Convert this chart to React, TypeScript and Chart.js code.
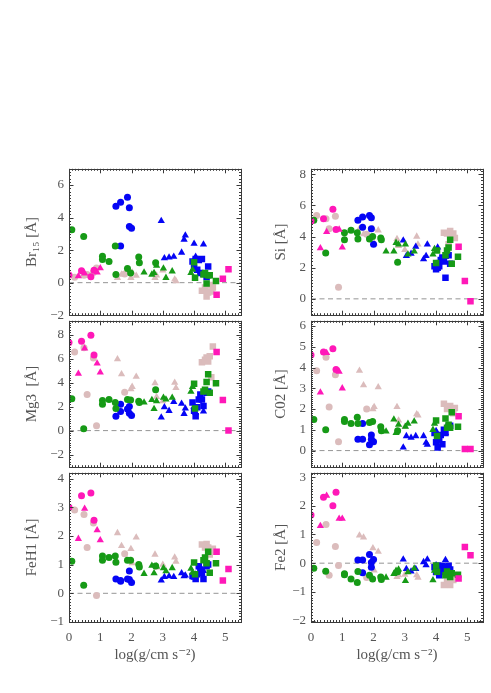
import { useEffect, useRef } from "react";
import { Chart, registerables } from "chart.js";

Chart.register(...registerables);

// log g of every star, one list per symbol group (shared by all six panels)
const magCircX = [0.0, 0.4, 0.7, 0.8];
const magTriX = [0.3, 0.5, 0.9, 1.0];
const magSqX = [4.72, 4.92, 5.1];
const pinkCircX = [0.18, 0.48, 0.58, 0.78, 0.88, 1.78];
const pinkTriX = [1.55, 1.68, 1.98, 2.02, 2.15, 2.75, 2.8, 3.0, 3.38, 3.42];
const pinkSqX = [4.25, 4.35, 4.4, 4.45, 4.5, 4.55, 4.6];
const greenCircX = [0.09, 0.47, 1.07, 1.07, 1.28, 1.48, 1.5, 1.87, 1.97, 2.23, 2.25, 2.77];
const greenTriX = [2.4, 2.65, 2.72, 2.8, 3.02, 3.1, 3.3, 3.9, 3.95];
const greenSqX = [4.0, 4.03, 4.3, 4.35, 4.4, 4.45, 4.5, 4.7];
const blueCircX = [1.5, 1.65, 1.65, 1.87, 1.93, 1.93, 2.0];
const blueTriX = [2.95, 3.05, 3.2, 3.35, 3.6, 3.68, 3.72, 4.0, 4.05, 4.3];
const blueSqX = [3.95, 4.0, 4.05, 4.1, 4.15, 4.2, 4.25, 4.3, 4.4, 4.45];

// Br15
const br15MagCirc = [0.47, 0.73, 0.37, 0.77];
const br15MagTri = [0.4, 0.57, 0.63, 0.89];
const br15MagSq = [-0.75, 0.24, 0.83];
const br15PinkCirc = [0.33, 0.45, 0.5, 0.62, 0.9, 0.53];
const br15PinkTri = [0.3, 0.5, 0.3, 0.63, 0.43, 0.3, 0.45, 0.75, 0.2, 0.1];
const br15PinkSq = [-0.5, -0.3, -0.85, -0.6, -0.15, -0.55, -0.3];
const br15GreenCirc = [3.25, 2.84, 1.62, 1.42, 1.3, 2.25, 0.5, 0.87, 0.6, 1.58, 1.22, 1.22];
const br15GreenTri = [0.63, 0.5, 0.6, 1.05, 0.87, 0.3, 0.7, 0.6, 0.8];
const br15GreenSq = [1.25, 0.3, 0.5, 0.6, -0.05, 0.45, 0.45, 0.1];
const br15BlueCirc = [4.7, 4.95, 2.25, 5.25, 4.6, 3.45, 3.35];
const br15BlueTri = [3.8, 1.5, 1.55, 1.6, 1.85, 2.65, 2.9, 2.4, 1.6, 2.35];
const br15BlueSq = [1.3, 0.9, 1.45, 0.8, 1.4, 0.6, 1.45, 0.55, 0.35, 1.0];

// Mg3
const mg3MagCirc = [7.35, 7.45, 7.95, 6.3];
const mg3MagTri = [4.75, 6.85, 5.6, 4.85];
const mg3MagSq = [6.55, 2.55, 0.0];
const mg3PinkCirc = [6.55, 6.9, 3.0, 6.05, 0.4, 3.2];
const mg3PinkTri = [5.95, 4.7, 3.45, 3.65, 4.5, 3.95, 2.8, 2.45, 4.0, 3.55];
const mg3PinkSq = [5.7, 5.9, 6.1, 5.75, 6.2, 4.45, 7.0];
const mg3GreenCirc = [2.65, 0.15, 2.5, 2.2, 2.6, 2.35, 1.85, 2.6, 2.55, 2.45, 2.35, 3.4];
const mg3GreenTri = [2.35, 2.55, 1.8, 2.45, 2.75, 2.6, 2.75, 3.25, 3.65];
const mg3GreenSq = [3.9, 1.85, 3.25, 3.4, 4.05, 4.7, 3.15, 3.95];
const mg3BlueCirc = [1.2, 1.6, 2.2, 1.8, 2.0, 1.45, 1.25];
const mg3BlueTri = [1.1, 1.95, 1.65, 2.4, 2.25, 1.4, 1.85, 2.0, 1.5, 1.6];
const mg3BlueSq = [2.35, 1.65, 1.2, 1.95, 2.6, 3.0, 2.6, 2.05, 3.15, 3.25];

// FeH1
const feh1MagCirc = [3.0, 3.4, 3.5, 2.55];
const feh1MagTri = [1.9, 2.95, 2.2, 1.85];
const feh1MagSq = [1.45, 0.45, 0.85];
const feh1PinkCirc = [2.9, 2.75, 1.6, 2.45, -0.08, 1.38];
const feh1PinkTri = [2.1, 1.65, 1.55, 1.05, 1.95, 1.35, 0.9, 1.0, 1.25, 1.1];
const feh1PinkSq = [1.7, 1.6, 1.72, 1.6, 1.35, 1.45, 1.55];
const feh1GreenCirc = [1.12, 0.28, 1.3, 1.15, 1.25, 1.3, 1.08, 1.15, 1.15, 1.0, 0.92, 0.95];
const feh1GreenTri = [0.68, 0.96, 0.7, 0.94, 0.88, 0.77, 0.88, 0.86, 0.72];
const feh1GreenSq = [1.07, 0.66, 1.15, 1.25, 1.05, 1.45, 0.72, 1.05];
const feh1BlueCirc = [0.5, 0.42, 0.45, 0.5, 0.78, 0.48, 0.38];
const feh1BlueTri = [0.45, 0.57, 0.6, 0.57, 0.7, 0.6, 0.62, 0.55, 0.66, 0.78];
const feh1BlueSq = [0.6, 0.66, 0.5, 0.66, 0.94, 0.83, 0.72, 0.5, 0.94, 1.0];

// Si
const siMagCirc = [5.0, 5.15, 5.75, 4.45];
const siMagTri = [3.25, 4.3, 4.45, 3.3];
const siMagSq = [3.35, 1.15, -0.15];
const siPinkCirc = [5.35, 5.15, 4.5, 5.3, 0.75, 4.15];
const siPinkTri = [4.5, 4.15, 4.5, 3.55, 4.4, 3.85, 3.4, 3.15, 4.0, 3.5];
const siPinkSq = [4.25, 4.2, 3.5, 4.35, 4.0, 4.2, 3.9];
const siGreenCirc = [5.05, 2.95, 4.25, 3.8, 4.4, 4.25, 3.85, 3.85, 4.0, 3.9, 3.8, 2.35];
const siGreenTri = [3.05, 3.05, 3.6, 3.5, 3.5, 2.85, 3.05, 2.85, 3.2];
const siGreenSq = [2.3, 3.1, 2.8, 3.1, 3.3, 3.8, 2.25, 2.7];
const siBlueCirc = [5.05, 5.25, 4.6, 5.35, 5.2, 4.5, 3.5];
const siBlueTri = [3.75, 2.75, 2.9, 3.35, 2.55, 2.75, 3.5, 2.25, 3.3, 2.7];
const siBlueSq = [2.1, 1.9, 2.0, 2.1, 2.5, 2.65, 2.4, 1.35, 2.8, 2.25];

// C02
const co2MagCirc = [4.6, 4.75, 4.9, 3.9];
const co2MagTri = [2.8, 4.7, 3.8, 3.0];
const co2MagSq = [1.65, 0.08, 0.08];
const co2PinkCirc = [3.85, 4.5, 2.1, 3.65, 0.42, 2.0];
const co2PinkTri = [3.85, 3.15, 2.0, 2.1, 3.05, 2.1, 1.45, 1.15, 1.75, 1.7];
const co2PinkSq = [2.25, 2.0, 1.2, 2.15, 2.0, 1.8, 2.05];
const co2GreenCirc = [1.5, 1.0, 1.5, 1.4, 1.3, 1.6, 1.3, 1.35, 1.4, 1.15, 0.95, 0.95];
const co2GreenTri = [0.92, 1.5, 0.85, 1.25, 1.15, 1.3, 1.4, 1.0, 1.3];
const co2GreenSq = [1.45, 0.7, 1.55, 1.1, 1.25, 1.1, 1.85, 1.15];
const co2BlueCirc = [0.55, 0.55, 1.3, 0.28, 0.75, 0.55, 0.42];
const co2BlueTri = [0.15, 0.7, 0.62, 0.7, 0.7, 0.38, 0.28, 0.95, 0.5, 0.85];
const co2BlueSq = [0.85, 0.4, 0.15, 0.55, 0.75, 0.3, 1.0, 0.85, 1.15, 1.2];

// Fe2
const fe2MagCirc = [1.68, 2.3, 2.0, 2.47];
const fe2MagTri = [1.3, 2.35, 1.55, 1.55];
const fe2MagSq = [-0.53, 0.56, 0.28];
const fe2PinkCirc = [0.72, 1.35, -0.42, 0.58, -0.08, -0.5];
const fe2PinkTri = [0.97, 0.9, 0.52, -0.25, 0.4, -0.48, -0.42, -0.4, -0.42, -0.5];
const fe2PinkSq = [-0.76, -0.64, -0.1, -0.76, -0.42, -0.59, -0.5];
const fe2GreenCirc = [-0.18, -0.28, -0.37, -0.4, -0.55, -0.67, -0.29, -0.42, -0.55, -0.48, -0.57, -0.3];
const fe2GreenTri = [-0.5, -0.37, -0.26, -0.22, -0.62, -0.31, -0.18, -0.59, -0.26];
const fe2GreenSq = [-0.08, -0.3, -0.42, -0.29, -0.37, -0.48, -0.35, -0.4];
const fe2BlueCirc = [0.11, 0.11, -0.33, 0.3, 0.02, -0.14, 0.13];
const fe2BlueTri = [0.13, -0.2, -0.29, -0.2, 0.04, -0.07, 0.13, -0.07, -0.2, 0.11];
const fe2BlueSq = [-0.14, -0.31, -0.09, -0.42, -0.2, -0.09, -0.31, -0.14, -0.09, -0.22];

const X_MIN = 0;
const X_MAX = 5.5;
const X_TICKS = [0, 1, 2, 3, 4, 5];

const MAGENTA = "#ff18b8";
const ROSE = "#dbbcbc";
const GREEN = "#169a16";
const BLUE = "#0505f5";
const TEXT = "#555555";
const FONT = "'Liberation Serif', 'DejaVu Serif', serif";

// first entry ends up on top (chart.js paints datasets back to front)
const GROUPS = [
  { key: "magSq", x: magSqX, color: MAGENTA, shape: "rect" },
  { key: "magTri", x: magTriX, color: MAGENTA, shape: "triangle" },
  { key: "magCirc", x: magCircX, color: MAGENTA, shape: "circle" },
  { key: "greenSq", x: greenSqX, color: GREEN, shape: "rect" },
  { key: "greenTri", x: greenTriX, color: GREEN, shape: "triangle" },
  { key: "greenCirc", x: greenCircX, color: GREEN, shape: "circle" },
  { key: "blueSq", x: blueSqX, color: BLUE, shape: "rect" },
  { key: "blueTri", x: blueTriX, color: BLUE, shape: "triangle" },
  { key: "blueCirc", x: blueCircX, color: BLUE, shape: "circle" },
  { key: "pinkSq", x: pinkSqX, color: ROSE, shape: "rect" },
  { key: "pinkTri", x: pinkTriX, color: ROSE, shape: "triangle" },
  { key: "pinkCirc", x: pinkCircX, color: ROSE, shape: "circle" },
];

const RADIUS: Record<string, number> = { circle: 3.5, triangle: 4.2, rect: 4.6 };

const PANELS = [
  {
    title: "Br₁₅ [Å]", yMin: -2, yMax: 7, yTicks: [-2, 0, 2, 4, 6], yMajor: 2, yMinor: 0.2,
    ys: { magSq: br15MagSq, magTri: br15MagTri, magCirc: br15MagCirc, greenSq: br15GreenSq, greenTri: br15GreenTri, greenCirc: br15GreenCirc, blueSq: br15BlueSq, blueTri: br15BlueTri, blueCirc: br15BlueCirc, pinkSq: br15PinkSq, pinkTri: br15PinkTri, pinkCirc: br15PinkCirc },
  },
  {
    title: "Mg3  [Å]", yMin: -3.05, yMax: 9.15, yTicks: [-2, 0, 2, 4, 6, 8], yMajor: 2, yMinor: 0.2,
    ys: { magSq: mg3MagSq, magTri: mg3MagTri, magCirc: mg3MagCirc, greenSq: mg3GreenSq, greenTri: mg3GreenTri, greenCirc: mg3GreenCirc, blueSq: mg3BlueSq, blueTri: mg3BlueTri, blueCirc: mg3BlueCirc, pinkSq: mg3PinkSq, pinkTri: mg3PinkTri, pinkCirc: mg3PinkCirc },
  },
  {
    title: "FeH1 [Å]", yMin: -1.0, yMax: 4.2, yTicks: [-1, 0, 1, 2, 3, 4], yMajor: 1, yMinor: 0.1,
    ys: { magSq: feh1MagSq, magTri: feh1MagTri, magCirc: feh1MagCirc, greenSq: feh1GreenSq, greenTri: feh1GreenTri, greenCirc: feh1GreenCirc, blueSq: feh1BlueSq, blueTri: feh1BlueTri, blueCirc: feh1BlueCirc, pinkSq: feh1PinkSq, pinkTri: feh1PinkTri, pinkCirc: feh1PinkCirc },
  },
  {
    title: "Si [Å]", yMin: -1.05, yMax: 8.35, yTicks: [0, 2, 4, 6, 8], yMajor: 2, yMinor: 0.2,
    ys: { magSq: siMagSq, magTri: siMagTri, magCirc: siMagCirc, greenSq: siGreenSq, greenTri: siGreenTri, greenCirc: siGreenCirc, blueSq: siBlueSq, blueTri: siBlueTri, blueCirc: siBlueCirc, pinkSq: siPinkSq, pinkTri: siPinkTri, pinkCirc: siPinkCirc },
  },
  {
    title: "C02 [Å]", yMin: -0.8, yMax: 6.25, yTicks: [0, 1, 2, 3, 4, 5, 6], yMajor: 1, yMinor: 0.1,
    ys: { magSq: co2MagSq, magTri: co2MagTri, magCirc: co2MagCirc, greenSq: co2GreenSq, greenTri: co2GreenTri, greenCirc: co2GreenCirc, blueSq: co2BlueSq, blueTri: co2BlueTri, blueCirc: co2BlueCirc, pinkSq: co2PinkSq, pinkTri: co2PinkTri, pinkCirc: co2PinkCirc },
  },
  {
    title: "Fe2 [Å]", yMin: -2.05, yMax: 3.15, yTicks: [-2, -1, 0, 1, 2, 3], yMajor: 1, yMinor: 0.1,
    ys: { magSq: fe2MagSq, magTri: fe2MagTri, magCirc: fe2MagCirc, greenSq: fe2GreenSq, greenTri: fe2GreenTri, greenCirc: fe2GreenCirc, blueSq: fe2BlueSq, blueTri: fe2BlueTri, blueCirc: fe2BlueCirc, pinkSq: fe2PinkSq, pinkTri: fe2PinkTri, pinkCirc: fe2PinkCirc },
  },
];

// page layout: plot boxes are 172 x 152 px
const PLOT_W = 172;
const PLOT_H = 152;
const PAD_T = 10;
const PAD_R = 8;
const X_AXIS_H = 42;
const COLS = [
  { left: 69, axisW: 46 },
  { left: 311, axisW: 39 },
];
const ROW_TOPS = [166, 318, 470];

const minus = (v: number) => (v < 0 ? "\u2212" + Math.abs(v) : String(v));

// IDL-style box: inward major/minor ticks on all four sides
const framePlugin = {
  id: "frame",
  afterDatasetsDraw(chart: any, _args: any, opts: any) {
    const { ctx, chartArea: a } = chart;
    const xs = chart.scales.x;
    const ys = chart.scales.y;
    const each = (min: number, max: number, step: number, major: number, fn: (v: number, len: number) => void) => {
      for (let i = Math.ceil(min / step - 1e-9); i * step <= max + 1e-9; i++) {
        const v = i * step;
        const isMajor = Math.abs(v / major - Math.round(v / major)) < 1e-6;
        fn(v, isMajor ? 4.5 : 2);
      }
    };
    ctx.save();
    ctx.strokeStyle = "#3a3a3a";
    ctx.lineWidth = 1;
    ctx.beginPath();
    each(xs.min, xs.max, opts.xMinor, opts.xMajor, (v, len) => {
      const p = Math.round(xs.getPixelForValue(v)) + 0.5;
      ctx.moveTo(p, a.bottom);
      ctx.lineTo(p, a.bottom - len);
      ctx.moveTo(p, a.top);
      ctx.lineTo(p, a.top + len);
    });
    each(ys.min, ys.max, opts.yMinor, opts.yMajor, (v, len) => {
      const p = Math.round(ys.getPixelForValue(v)) + 0.5;
      ctx.moveTo(a.left, p);
      ctx.lineTo(a.left + len, p);
      ctx.moveTo(a.right, p);
      ctx.lineTo(a.right - len, p);
    });
    ctx.stroke();
    ctx.strokeRect(Math.round(a.left) + 0.5, Math.round(a.top) + 0.5, Math.round(a.right - a.left), Math.round(a.bottom - a.top));
    ctx.restore();
  },
};

type PanelProps = { panel: (typeof PANELS)[number]; col: number; row: number };

const Panel = ({ panel, col, row }: PanelProps) => {
  const canvasRef = useRef<HTMLCanvasElement | null>(null);
  const bottomRow = row === ROW_TOPS.length - 1;
  const { left: plotLeft, axisW } = COLS[col];
  const left = plotLeft - axisW;
  const top = ROW_TOPS[row] - PAD_T;
  const width = axisW + PLOT_W + PAD_R;
  const height = PAD_T + PLOT_H + (bottomRow ? X_AXIS_H : PAD_T);

  useEffect(() => {
    if (!canvasRef.current) return;

    const ys = panel.ys as Record<string, number[]>;
    const datasets: any[] = GROUPS.map((g) => ({
      type: "scatter",
      data: g.x.map((x, i) => ({ x, y: ys[g.key][i] })),
      pointStyle: g.shape,
      pointRadius: RADIUS[g.shape],
      pointHoverRadius: RADIUS[g.shape],
      backgroundColor: g.color,
      borderColor: g.color,
      borderWidth: 0,
      clip: 0,
    }));
    // dashed zero line
    datasets.push({
      type: "line",
      data: [
        { x: X_MIN, y: 0 },
        { x: X_MAX, y: 0 },
      ],
      borderColor: "#959595",
      borderWidth: 1,
      borderDash: [5, 3.5],
      pointRadius: 0,
      clip: 0,
    });

    const chart = new Chart(canvasRef.current, {
      type: "scatter",
      data: { datasets },
      options: {
        animation: false,
        responsive: false,
        events: [],
        layout: {
          autoPadding: false,
          padding: { top: PAD_T, right: PAD_R, bottom: bottomRow ? 0 : PAD_T, left: 0 },
        },
        plugins: {
          legend: { display: false },
          tooltip: { enabled: false },
          frame: { xMajor: 1, xMinor: 0.1, yMajor: panel.yMajor, yMinor: panel.yMinor },
        } as any,
        scales: {
          x: {
            type: "linear",
            min: X_MIN,
            max: X_MAX,
            display: bottomRow,
            grid: { display: false, drawTicks: false },
            border: { display: false },
            afterBuildTicks: (s: any) => {
              s.ticks = X_TICKS.map((value) => ({ value }));
            },
            afterFit: (s: any) => {
              s.height = bottomRow ? X_AXIS_H : 0;
            },
            ticks: {
              padding: 8,
              color: TEXT,
              font: { family: FONT, size: 13 },
              callback: (v: any) => minus(Number(v)),
            },
            title: {
              display: true,
              text: "log(g/cm s⁻²)",
              color: TEXT,
              font: { family: FONT, size: 15 },
              padding: 0,
            },
          },
          y: {
            type: "linear",
            min: panel.yMin,
            max: panel.yMax,
            grid: { display: false, drawTicks: false },
            border: { display: false },
            afterBuildTicks: (s: any) => {
              s.ticks = panel.yTicks.map((value) => ({ value }));
            },
            afterFit: (s: any) => {
              s.width = axisW;
            },
            ticks: {
              padding: 5,
              color: TEXT,
              font: { family: FONT, size: 13 },
              callback: (v: any) => minus(Number(v)),
            },
            title: {
              display: true,
              text: panel.title,
              color: TEXT,
              font: { family: FONT, size: 15 },
              padding: 0,
            },
          },
        },
      },
      plugins: [framePlugin],
    });

    return () => {
      chart.destroy();
    };
  }, [panel, axisW, bottomRow]);

  return (
    <canvas
      ref={canvasRef}
      width={width}
      height={height}
      style={{ position: "absolute", left, top, width, height }}
    />
  );
};

export default function App() {
  return (
    <div
      style={{
        position: "absolute",
        left: 0,
        top: 0,
        width: 491,
        height: 693,
        background: "#ffffff",
        overflow: "hidden",
      }}
    >
      {PANELS.map((panel, i) => (
        <Panel key={panel.title} panel={panel} col={Math.floor(i / 3)} row={i % 3} />
      ))}
    </div>
  );
}
